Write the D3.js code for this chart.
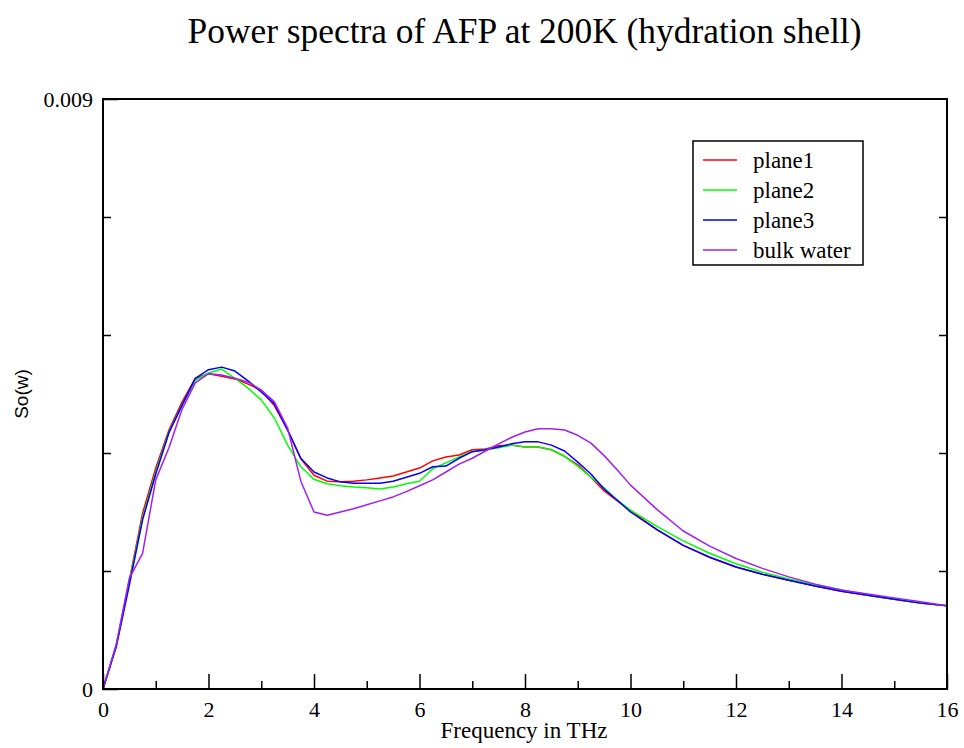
<!DOCTYPE html>
<html>
<head>
<meta charset="utf-8">
<script src="https://cdn.jsdelivr.net/npm/d3@7"></script>
<style>
  body { margin: 0; background: #fff; }
  svg { display: block; }
  .axis text { font-family: "Liberation Serif", serif; font-size: 22px; fill: #000; }
  .axis line { stroke: #000; stroke-width: 1.5; }
</style>
</head>
<body>
<svg></svg>
<script>
// frequency grid (THz)
const freq = [0, 0.25, 0.5, 0.75, 1, 1.25, 1.5, 1.75, 2, 2.25, 2.5, 2.75, 3, 3.25, 3.5, 3.75,
  4, 4.25, 4.5, 4.75, 5, 5.25, 5.5, 5.75, 6, 6.25, 6.5, 6.75, 7, 7.25, 7.5, 7.75,
  8, 8.25, 8.5, 8.75, 9, 9.25, 9.5, 9.75, 10, 10.5, 11, 11.5, 12, 12.5, 13, 13.5,
  14, 14.5, 15, 15.5, 16];

const plane1 = [0, 0.00067, 0.00166, 0.00268, 0.00337, 0.00395, 0.00438, 0.00474, 0.00481, 0.00477,
  0.00473, 0.00465, 0.00456, 0.00432, 0.00395, 0.00351, 0.00326, 0.00317, 0.00316, 0.00317,
  0.00319, 0.00322, 0.00325, 0.00331, 0.00337, 0.00348, 0.00354, 0.00357, 0.00365, 0.00366,
  0.00371, 0.00372, 0.00369, 0.00369, 0.00365, 0.00355, 0.00342, 0.00323, 0.00302, 0.00287,
  0.00272, 0.00243, 0.00219, 0.00201, 0.00186, 0.00175, 0.00166, 0.00157, 0.00149, 0.00143,
  0.00137, 0.00131, 0.00127];

const plane2 = [0, 0.00066, 0.00163, 0.00261, 0.00331, 0.00392, 0.00433, 0.00471, 0.00482, 0.00488,
  0.00474, 0.00459, 0.00441, 0.00413, 0.00372, 0.00339, 0.00320, 0.00313, 0.00310, 0.00308,
  0.00307, 0.00305, 0.00308, 0.00313, 0.00317, 0.00336, 0.00345, 0.00354, 0.00362, 0.00365,
  0.00368, 0.00372, 0.00369, 0.00369, 0.00365, 0.00355, 0.00340, 0.00323, 0.00307, 0.00288,
  0.00273, 0.00248, 0.00226, 0.00207, 0.00191, 0.00178, 0.00168, 0.00159, 0.00151, 0.00143,
  0.00137, 0.00131, 0.00127];

const plane3 = [0, 0.00064, 0.00159, 0.00258, 0.00328, 0.00391, 0.00433, 0.00474, 0.00487, 0.00491,
  0.00485, 0.00470, 0.00453, 0.00435, 0.00395, 0.00352, 0.00331, 0.00322, 0.00316, 0.00314,
  0.00314, 0.00314, 0.00317, 0.00323, 0.00329, 0.00339, 0.00340, 0.00352, 0.00362, 0.00365,
  0.00369, 0.00374, 0.00377, 0.00377, 0.00372, 0.00363, 0.00346, 0.00328, 0.00305, 0.00288,
  0.00270, 0.00243, 0.00219, 0.00201, 0.00186, 0.00175, 0.00166, 0.00157, 0.00149, 0.00143,
  0.00137, 0.00131, 0.00127];

const bulkWater = [0, 0.00067, 0.00169, 0.00207, 0.00319, 0.00368, 0.00427, 0.00467, 0.00481, 0.00479,
  0.00474, 0.00468, 0.00456, 0.00438, 0.00398, 0.00317, 0.00270, 0.00265, 0.00270, 0.00275,
  0.00281, 0.00287, 0.00293, 0.00301, 0.00310, 0.00319, 0.00331, 0.00343, 0.00352, 0.00363,
  0.00374, 0.00384, 0.00392, 0.00397, 0.00397, 0.00395, 0.00387, 0.00375, 0.00356, 0.00334,
  0.00311, 0.00274, 0.00241, 0.00218, 0.00199, 0.00184, 0.00171, 0.00160, 0.00151, 0.00145,
  0.00139, 0.00133, 0.00127];

const seriesNames = ['plane1', 'plane2', 'plane3', 'bulk water'];
const seriesColors = ['#ff0000', '#00ff00', '#0000ff', '#a020f0'];
const seriesValues = [plane1, plane2, plane3, bulkWater];

const xMajor = [0, 2, 4, 6, 8, 10, 12, 14, 16];
const xMinor = [1, 3, 5, 7, 9, 11, 13, 15];
const yMajor = [0, 0.009];
const yMinor = [0.0018, 0.0036, 0.0054, 0.0072];

let width = 964;
let height = 748;
let margin = { left: 103, right: 17, top: 99, bottom: 59 };
let innerWidth = width - margin.left - margin.right;
let innerHeight = height - margin.top - margin.bottom;

let svg = d3.select('svg').attr('width', width).attr('height', height);

// title
svg.append('text')
  .attr('x', margin.left + innerWidth / 2 - 0.5)
  .attr('y', 43)
  .attr('text-anchor', 'middle')
  .style('font-family', '"Liberation Serif", serif')
  .style('font-size', '35.4px')
  .text('Power spectra of AFP at 200K (hydration shell)');

let focus = svg.append('g').attr('transform', `translate(${margin.left}, ${margin.top})`);

let xScale = d3.scaleLinear().domain([0, 16]).range([0, innerWidth]);
let yScale = d3.scaleLinear().domain([0, 0.009]).range([innerHeight, 0]);

// lines
let line = d3.line()
  .x((d, i) => xScale(freq[i]))
  .y(d => yScale(d));

focus.selectAll('path.series')
  .data(seriesValues)
  .enter()
  .append('path')
  .attr('class', 'series')
  .attr('fill', 'none')
  .attr('stroke', (d, i) => seriesColors[i])
  .attr('stroke-width', 1.5)
  .attr('stroke-linejoin', 'round')
  .attr('d', line);

/**
 * axes (ticks point inward)
 */
let xAxisMajor = d3.axisBottom(xScale).tickValues(xMajor).tickSize(-15).tickPadding(12)
  .tickFormat(d3.format('d'));
let xAxisMinor = d3.axisBottom(xScale).tickValues(xMinor).tickSize(-8).tickFormat('');

focus.append('g').attr('class', 'axis')
  .attr('transform', `translate(0, ${innerHeight})`)
  .call(xAxisMajor);
focus.append('g').attr('class', 'axis minor')
  .attr('transform', `translate(0, ${innerHeight})`)
  .call(xAxisMinor);

let yAxisMajor = d3.axisLeft(yScale).tickValues(yMajor).tickSize(-15).tickPadding(10)
  .tickFormat(d => d === 0 ? '0' : d3.format('.3f')(d));
let yAxisMinor = d3.axisLeft(yScale).tickValues(yMinor).tickSize(-8).tickFormat('');

focus.append('g').attr('class', 'axis').call(yAxisMajor);
focus.append('g').attr('class', 'axis minor').call(yAxisMinor);

focus.append('g').attr('class', 'axis minor')
  .attr('transform', `translate(${innerWidth}, 0)`)
  .call(d3.axisRight(yScale).tickValues(yMinor).tickSize(-8).tickFormat(''));

focus.selectAll('.axis .domain').remove();
focus.selectAll('.minor text').remove();

// frame
focus.append('rect')
  .attr('width', innerWidth)
  .attr('height', innerHeight)
  .attr('fill', 'none')
  .attr('stroke', '#000')
  .attr('stroke-width', 2);

// axis labels
svg.append('text')
  .attr('x', margin.left + innerWidth / 2 - 1)
  .attr('y', 738)
  .attr('text-anchor', 'middle')
  .style('font-family', '"Liberation Serif", serif')
  .style('font-size', '23px')
  .text('Frequency in THz');

svg.append('text')
  .attr('transform', `translate(28, ${margin.top + innerHeight / 2}) rotate(-90)`)
  .attr('text-anchor', 'middle')
  .style('font-family', '"Liberation Sans", sans-serif')
  .style('font-size', '19px')
  .text('So(w)');

/**
 * legend
 */
let legend = svg.append('g').attr('transform', 'translate(693, 141)');
legend.append('rect')
  .attr('width', 170)
  .attr('height', 124)
  .attr('fill', '#fff')
  .attr('stroke', '#000')
  .attr('stroke-width', 1.5);

let entry = legend.selectAll('g.entry')
  .data(seriesNames)
  .enter()
  .append('g')
  .attr('class', 'entry')
  .attr('transform', (d, i) => `translate(0, ${19 + i * 30})`);

entry.append('line')
  .attr('x1', 10).attr('x2', 44)
  .attr('stroke', (d, i) => seriesColors[i])
  .attr('stroke-width', 1.5);

entry.append('text')
  .attr('x', 60)
  .attr('y', 8)
  .style('font-family', '"Liberation Serif", serif')
  .style('font-size', '23px')
  .text(d => d);
</script>
</body>
</html>
